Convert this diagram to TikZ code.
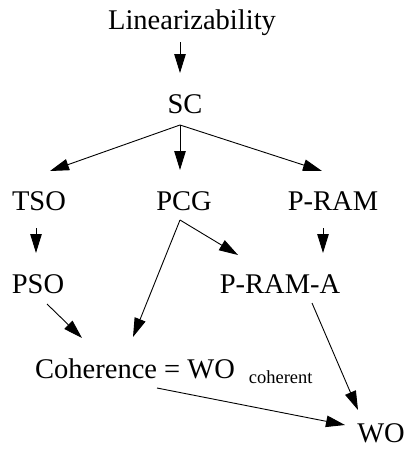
\documentclass[tikz,border=0pt]{standalone}
\usepackage{fontspec}
\setmainfont{Liberation Serif}
\usetikzlibrary{arrows.meta,calc}
\begin{document}
\begin{tikzpicture}[x=1pt,y=-1pt,
  lbl/.style={inner sep=0pt, anchor=base, font=\fontsize{28.5}{34}\selectfont},
  arr/.style={line width=0.9pt, -{Triangle[length=19pt,width=11.5pt]}}]
\useasboundingbox (0,0) rectangle (407,450);
\node[lbl] (lin) at (192,29) {Linearizability};
\node[lbl] (sc) at (185,113) {SC};
\node[lbl] (tso) at (39,210) {TSO};
\node[lbl] (pcg) at (184,210) {PCG};
\node[lbl] (pram) at (333,210) {P-RAM};
\node[lbl] (pso) at (38,293) {PSO};
\node[lbl] (prama) at (280,293) {P-RAM-A};
\node[lbl, anchor=base west] (coh) at (35,378) {Coherence = WO\hspace{14pt}{\fontsize{18.5}{22}\selectfont\raisebox{-5pt}{coherent}}};
\node[lbl] (wo) at (381,442) {WO};
\draw[arr] ($(lin.base)+(-12,13)$) -- ($(sc.base)+(-5,-40)$);
\draw[arr] ($(sc.base)+(-5,12)$) -- ($(tso.base)+(11,-39)$);
\draw[arr] ($(sc.base)+(-5,12)$) -- ($(pcg.base)+(-4,-40)$);
\draw[arr] ($(sc.base)+(-5,12)$) -- ($(pram.base)+(-11,-39)$);
\draw[arr] ($(tso.base)+(-3,18)$) -- ($(pso.base)+(-2,-40)$);
\draw[arr] ($(pram.base)+(-10,18)$) -- ($(prama.base)+(43,-40)$);
\draw[arr] ($(pcg.base)+(-4,10)$) -- ($(prama.base)+(-42,-38)$);
\draw[arr] ($(pcg.base)+(-4,10)$) -- ($(coh.base west)+(98,-41)$);
\draw[arr] ($(pso.base)+(9,11)$) -- ($(coh.base west)+(47,-40)$);
\draw[arr] ($(prama.base)+(32,10)$) -- ($(wo.base)+(-23,-32)$);
\draw[arr] ($(coh.base west)+(122,10)$) -- ($(wo.base)+(-36,-17)$);
\end{tikzpicture}
\end{document}
